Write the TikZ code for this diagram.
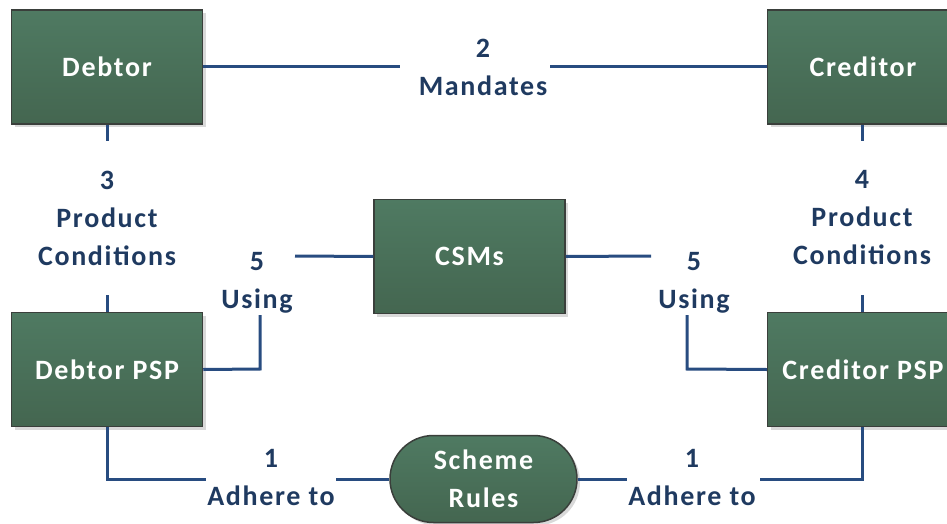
\documentclass[tikz,border=0pt]{standalone}
\usepackage{fontspec}
\setmainfont{Carlito}[LetterSpace=6]
\usetikzlibrary{shapes.misc,shadows}
\definecolor{boxtop}{HTML}{4F7A62}
\definecolor{boxbot}{HTML}{446650}
\definecolor{boxedge}{HTML}{3A3F3B}
\definecolor{wire}{HTML}{284C80}
\definecolor{lbl}{HTML}{1F3A60}
\tikzset{
  entity/.style={rectangle, draw=boxedge, line width=1.5pt, top color=boxtop, bottom color=boxbot,
    minimum width=191pt, minimum height=114pt, inner sep=0pt, text=white,
    font=\fontsize{28}{34}\selectfont\bfseries,
    drop shadow={shadow xshift=3pt, shadow yshift=-3pt, fill=black!25, opacity=0.6}},
  rules/.style={rounded rectangle, draw=boxedge, line width=1.5pt, top color=boxtop, bottom color=boxbot,
    minimum width=187pt, minimum height=87pt, inner sep=0pt, text=white, align=center,
    font=\fontsize{28}{38}\selectfont\bfseries,
    drop shadow={shadow xshift=3pt, shadow yshift=-3pt, fill=black!25, opacity=0.6}},
  tag/.style={text=lbl, align=center, inner sep=0pt, font=\fontsize{28}{38}\selectfont\bfseries},
  wireline/.style={draw=wire, line width=3pt}
}
\begin{document}
\begin{tikzpicture}[x=1pt,y=-1pt]
\useasboundingbox (0,0) rectangle (947,524);
% boxes
\node[entity] (debtor) at (107,67) {Debtor};
\node[entity] (creditor) at (863,67) {Creditor};
\node[entity] (csms) at (469.5,256.5) {CSMs};
\node[entity] (dpsp) at (107,369.5) {Debtor PSP};
\node[entity] (cpsp) at (863,369.5) {Creditor PSP};
\node[rules] (rules) at (483.5,479) {Scheme\\Rules};
% labels
\node[tag] (l2) at (483,67) {2\\Mandates};
\node[tag] (l3) at (107,218) {3\\Product\\Conditions};
\node[tag] (l4) at (862,218) {4\\Product\\Conditions};
\node[tag] (l5a) at (257,283) {5\\Using};
\node[tag] (l5b) at (694,283) {5\\Using};
\node[tag] (l1a) at (271,478) {1\\Adhere to};
\node[tag] (l1b) at (692,478) {1\\Adhere to};
% helper coordinates
\coordinate (m1) at (400,67);
\coordinate (m2) at (550,67);
\coordinate (d1) at (107,141);
\coordinate (d2) at (107,295);
\coordinate (c1) at (862,141);
\coordinate (c2) at (862,295);
\coordinate (u1) at (295,256);
\coordinate (u2) at (260,315);
\coordinate (u3) at (260,369);
\coordinate (v1) at (651,256);
\coordinate (v2) at (687,315);
\coordinate (v3) at (687,369);
\coordinate (a1) at (107,479);
\coordinate (a2) at (206,479);
\coordinate (a3) at (336,479);
\coordinate (b1) at (627,479);
\coordinate (b2) at (760,479);
\coordinate (b3) at (862,479);
% connectors
\draw[wireline] (debtor.east) -- (m1);
\draw[wireline] (m2) -- (creditor.west);
\draw[wireline] (debtor.south) -- (d1);
\draw[wireline] (d2) -- (dpsp.north);
\draw[wireline] (creditor.south -| c1) -- (c1);
\draw[wireline] (c2) -- (cpsp.north -| c2);
\draw[wireline] (csms.west) -- (u1);
\draw[wireline] (u2) -- (u3) -- (dpsp.east);
\draw[wireline] (csms.east) -- (v1);
\draw[wireline] (v2) -- (v3) -- (cpsp.west);
\draw[wireline] (dpsp.south) -- (a1) -- (a2);
\draw[wireline] (a3) -- (rules.west);
\draw[wireline] (rules.east) -- (b1);
\draw[wireline] (b2) -- (b3) -- (cpsp.south -| b3);
\end{tikzpicture}
\end{document}
